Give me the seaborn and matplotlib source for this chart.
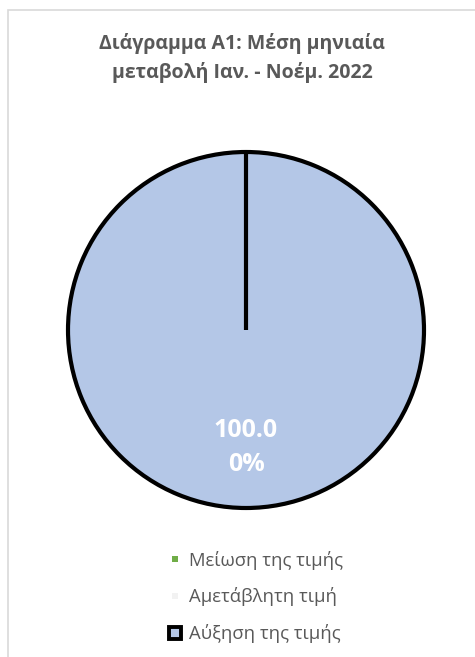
import matplotlib
matplotlib.use("Agg")
import numpy as np
import matplotlib.pyplot as plt
import seaborn as sns
from matplotlib.patches import Rectangle
from matplotlib.lines import Line2D

# δεδομένα διαγράμματος
categories = ['Μείωση της τιμής', 'Αμετάβλητη τιμή', 'Αύξηση της τιμής']
values = [0, 0, 100]
colors = ['#70AD47', '#F2F2F2', '#B4C7E7']
title = 'Διάγραμμα Α1: Μέση μηνιαία\nμεταβολή Ιαν. - Νοέμ. 2022'
start_angle = 90

sns.set_theme(style='white')
plt.rcParams['font.family'] = ['Open Sans', 'DejaVu Sans']

fig = plt.figure(figsize=(4.75, 6.57), dpi=100)

# πλαίσιο γραφήματος (κομμένο δεξιά/κάτω)
fig.patches.append(Rectangle((8 / 475, -0.05), 1.2, 1 - 10 / 657 + 0.05,
                             transform=fig.transFigure, fill=False,
                             edgecolor='#D9D9D9', linewidth=1.2))

cx, cy, r = 246, 330, 178
ax = fig.add_axes([(cx - r) / 475, 1 - (cy + r) / 657, 2 * r / 475, 2 * r / 657])


def fmt_pct(p):
    if p <= 0:
        return ''
    s = f'{p:.2f}%'
    return s[:5] + '\n' + s[5:]


wedges, texts, autotexts = ax.pie(
    values, colors=colors, startangle=start_angle, counterclock=True,
    autopct=fmt_pct, pctdistance=0.66,
    wedgeprops=dict(linewidth=0),
    textprops=dict(color='white', fontsize=18, fontweight='bold'))
wedges[2].set_edgecolor('black')
wedges[2].set_linewidth(3)
# ακμή της φέτας στην αρχική γωνία (η πλήρης φέτα δεν τη σχεδιάζει)
a = np.deg2rad(start_angle)
ax.plot([0, np.cos(a)], [0, np.sin(a)], color='black', linewidth=3,
        solid_capstyle='butt', clip_on=False)
for t in autotexts:
    t.set_linespacing(1.45)
ax.set_xlim(-1, 1)
ax.set_ylim(-1, 1)
for w in wedges:
    w.set_clip_on(False)

fig.text(242 / 475, 1 - 58 / 657, title, ha='center', va='center',
         fontsize=14, fontweight='bold', color='#595959', linespacing=1.45)

handles = [Line2D([], [], linestyle='none', marker='s', markersize=5,
                  markerfacecolor=colors[0], markeredgewidth=0),
           Line2D([], [], linestyle='none', marker='s', markersize=5,
                  markerfacecolor=colors[1], markeredgewidth=0),
           Line2D([], [], linestyle='none', marker='s', markersize=8,
                  markerfacecolor=colors[2], markeredgecolor='black', markeredgewidth=2.8)]
fig.legend(handles, categories, loc='center', bbox_to_anchor=(255 / 475, 1 - 597 / 657),
           frameon=False, fontsize=13.3, labelcolor='#595959',
           handlelength=0.8, handletextpad=0.35, labelspacing=0.95)

fig.savefig('out.png', dpi=100)
